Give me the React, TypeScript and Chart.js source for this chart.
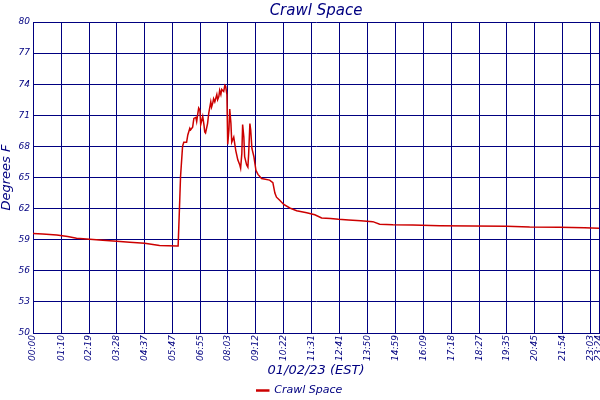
import { useEffect, useRef } from 'react'
import { Chart, registerables } from 'chart.js'

Chart.register(...registerables)

// readings from the crawl space sensor, 01/02/23
const readingTimes = [
  '00:00', '00:24', '00:59', '01:26', '01:48', '02:21', '02:53', '03:28', '04:00', '04:37',
  '05:14', '05:57', '06:00', '06:04', '06:06', '06:11', '06:14', '06:21', '06:24', '06:29',
  '06:31', '06:36', '06:39', '06:44', '06:46', '06:49', '06:51', '06:54', '06:56', '07:01',
  '07:04', '07:06', '07:08', '07:13', '07:16', '07:21', '07:23', '07:26', '07:28', '07:31',
  '07:36', '07:38', '07:41', '07:43', '07:46', '07:48', '07:53', '07:56', '07:58', '08:01',
  '08:03', '08:06', '08:08', '08:11', '08:13', '08:18', '08:23', '08:28', '08:33', '08:35',
  '08:38', '08:40', '08:43', '08:45', '08:50', '08:53', '08:55', '08:58', '09:00', '09:03',
  '09:08', '09:13', '09:18', '09:27', '09:47', '09:55', '10:00', '10:04', '10:12', '10:22',
  '10:37', '10:54', '11:19', '11:39', '11:56', '12:18', '12:38', '13:03', '13:33', '14:03',
  '14:20', '14:53', '15:42', '16:49', '18:11', '19:35', '20:32', '21:46', '22:48', '23:24',
]

const crawlSpaceTemps = [
  59.6, 59.55, 59.45, 59.3, 59.15, 59.05, 58.95, 58.85, 58.75, 58.65,
  58.45, 58.4, 58.4, 62.8, 65.1, 68.0, 68.4, 68.4, 69.1, 69.75,
  69.6, 69.85, 70.7, 70.8, 70.4, 71.2, 71.7, 71.5, 70.1, 70.9,
  70.1, 69.4, 69.3, 70.2, 71.2, 72.3, 71.8, 72.2, 72.6, 72.3,
  73.0, 72.5, 72.8, 73.4, 73.0, 73.5, 73.3, 73.9, 73.8, 73.0,
  68.2, 69.6, 71.6, 70.2, 68.4, 68.9, 67.6, 66.7, 66.2, 65.9,
  67.3, 70.1, 68.9, 67.0, 66.2, 66.0, 67.3, 70.2, 69.6, 67.8,
  67.0, 65.7, 65.3, 64.9, 64.75, 64.5, 63.5, 63.1, 62.8, 62.4,
  62.06, 61.8, 61.6, 61.4, 61.1, 61.05, 60.97, 60.9, 60.83, 60.74,
  60.5, 60.45, 60.42, 60.35, 60.32, 60.29, 60.22, 60.2, 60.15, 60.1,
]

const xTickLabels = [
  '00:00', '01:10', '02:19', '03:28', '04:37', '05:47', '06:55', '08:03', '09:12', '10:22', '11:31',
  '12:41', '13:50', '14:59', '16:09', '17:18', '18:27', '19:35', '20:45', '21:54', '23:03', '23:24',
]

const yMin = 50
const yMax = 80
const yStep = 3

const NAVY = '#000080'
const RED = '#CC0000'
const FONT = 'DejaVu Sans'

const toMinutes = (t: string) => {
  const [h, m] = t.split(':').map(Number)
  return h * 60 + m
}

export default function App() {
  const chartRef = useRef<HTMLCanvasElement>(null)

  useEffect(() => {
    if (!chartRef.current) return

    const tickMinutes = xTickLabels.map(toMinutes)
    const italic = (size: number) => ({ family: FONT, size, style: 'italic' as const, weight: 'normal' as const })

    const chart = new Chart(chartRef.current, {
      type: 'line',
      data: {
        datasets: [
          {
            label: 'Crawl Space',
            data: readingTimes.map((t, i) => ({ x: toMinutes(t), y: crawlSpaceTemps[i] })),
            borderColor: RED,
            backgroundColor: RED,
            borderWidth: 1.5,
            pointRadius: 0,
            tension: 0,
          },
        ],
      },
      options: {
        animation: false,
        responsive: true,
        maintainAspectRatio: false,
        layout: { padding: { left: 0, right: 1, top: 0, bottom: -6 } },
        plugins: {
          title: {
            display: true,
            fullSize: false,
            text: 'Crawl Space',
            color: NAVY,
            font: italic(15),
            padding: { top: 2, bottom: 2 },
          },
          legend: {
            position: 'bottom',
            labels: { color: NAVY, font: italic(11), boxWidth: 12, boxHeight: 1, padding: 4 },
          },
          tooltip: { enabled: false },
        },
        scales: {
          x: {
            type: 'linear',
            min: 0,
            max: tickMinutes[tickMinutes.length - 1],
            afterBuildTicks: (scale: any) => {
              scale.ticks = tickMinutes.map((v) => ({ value: v }))
            },
            afterFit: (scale: any) => {
              scale.height = 48
              scale.paddingLeft = 0
              scale.paddingRight = 0
            },
            ticks: {
              autoSkip: false,
              minRotation: 90,
              maxRotation: 90,
              padding: 2,
              color: NAVY,
              font: italic(9),
              callback: (_v: any, i: number) => xTickLabels[i],
            },
            grid: { color: NAVY, drawTicks: false },
            border: { color: NAVY },
            title: {
              display: true,
              text: '01/02/23 (EST)',
              color: NAVY,
              font: italic(13),
              padding: { top: 0, bottom: 3 },
            },
          },
          y: {
            min: yMin,
            max: yMax,
            afterFit: (scale: any) => {
              scale.width = 33
              scale.paddingTop = 0
              scale.paddingBottom = 0
            },
            ticks: { stepSize: yStep, padding: 3, color: NAVY, font: italic(9) },
            grid: { color: NAVY, drawTicks: false },
            border: { color: NAVY },
            title: {
              display: true,
              text: 'Degrees F',
              color: NAVY,
              font: { ...italic(13), lineHeight: 1 },
              padding: 0,
            },
          },
        },
      },
    } as any)

    return () => {
      chart.destroy()
    }
  }, [])

  return (
    <div style={{ position: 'fixed', left: 0, top: 0, width: 600, height: 400, background: '#fff' }}>
      <canvas ref={chartRef}></canvas>
    </div>
  )
}
